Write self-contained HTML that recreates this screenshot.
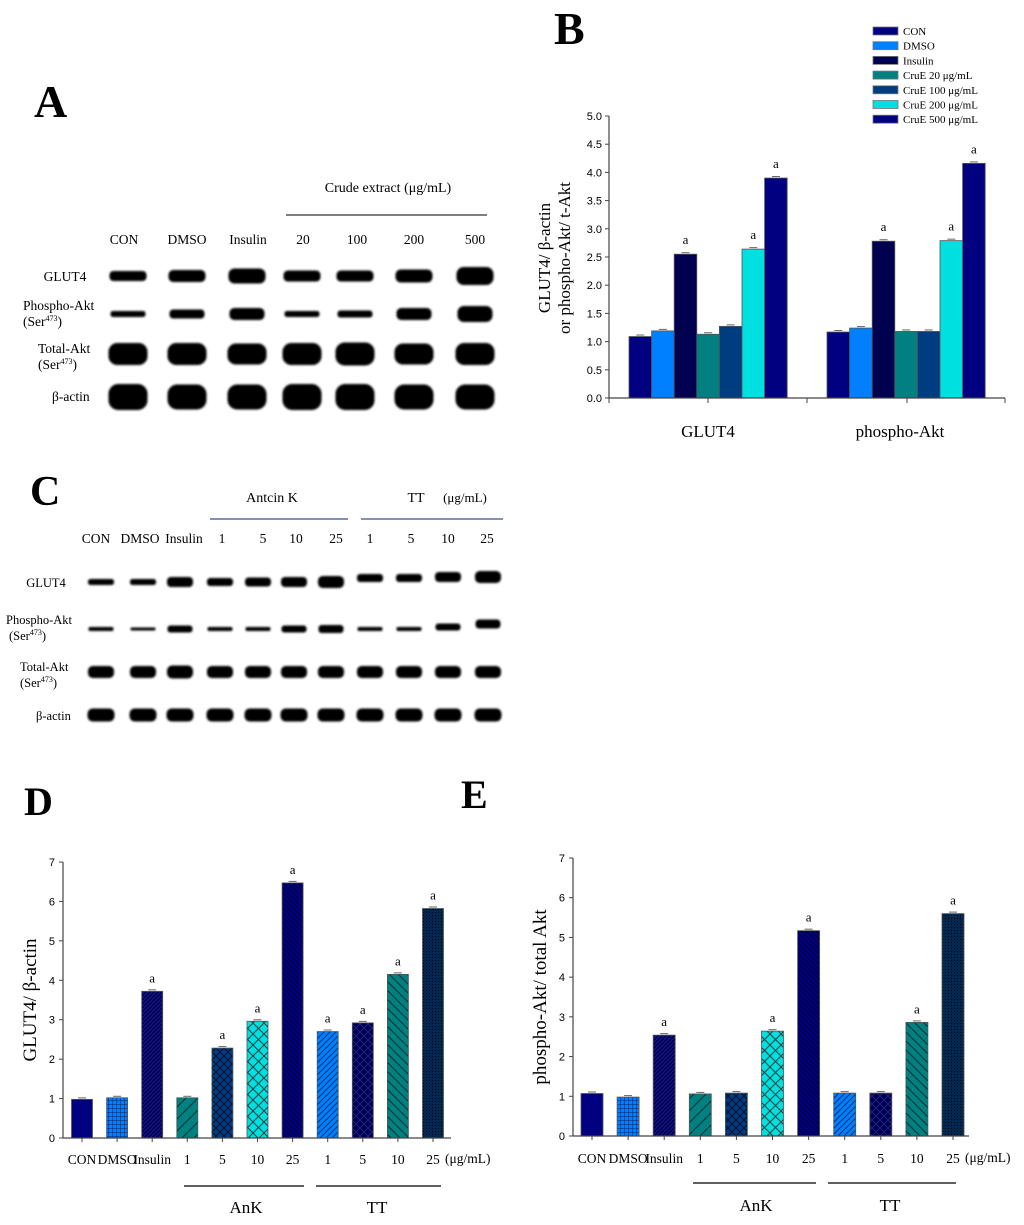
<!DOCTYPE html>
<html><head><meta charset="utf-8">
<style>
html,body{margin:0;padding:0;background:#fff;}
svg{display:block;}
text{font-family:"Liberation Serif",serif;fill:#000;}
.sans{font-family:"Liberation Sans",sans-serif;}
</style></head>
<body>
<svg id="fig" width="1024" height="1225" viewBox="0 0 1024 1225" xmlns="http://www.w3.org/2000/svg">
<defs>
<filter id="blur" x="-20%" y="-50%" width="140%" height="200%"><feGaussianBlur stdDeviation="1"/></filter>
<pattern id="p-grid" width="4" height="4" patternUnits="userSpaceOnUse"><rect width="4" height="4" fill="#0080ff"/><path d="M0 0H4M0 0V4" stroke="#002060" stroke-width="1"/></pattern>
<pattern id="p-ins" width="4" height="4" patternUnits="userSpaceOnUse"><rect width="4" height="4" fill="#000050"/><path d="M-1 1L1 -1M0 4L4 0M3 5L5 3" stroke="#1a1a8a" stroke-width="1"/></pattern>
<pattern id="p-fwdw" width="12" height="12" patternUnits="userSpaceOnUse"><rect width="12" height="12" fill="#008080"/><path d="M-3 3L3 -3M0 12L12 0M9 15L15 9" stroke="#003030" stroke-width="1"/></pattern>
<pattern id="p-xd" width="8" height="8" patternUnits="userSpaceOnUse"><rect width="8" height="8" fill="#003c80"/><path d="M0 0L8 8M8 0L0 8" stroke="#001030" stroke-width="1"/></pattern>
<pattern id="p-xc" width="11" height="11" patternUnits="userSpaceOnUse"><rect width="11" height="11" fill="#00e0e0"/><path d="M0 0L11 11M11 0L0 11" stroke="#104040" stroke-width="1"/></pattern>
<pattern id="p-back" width="5" height="5" patternUnits="userSpaceOnUse"><rect width="5" height="5" fill="#000080"/><path d="M0 0L5 5M-1 4L1 6M4 -1L6 1" stroke="#000030" stroke-width="1"/></pattern>
<pattern id="p-fwdb" width="6" height="6" patternUnits="userSpaceOnUse"><rect width="6" height="6" fill="#0080ff"/><path d="M-1 1L1 -1M0 6L6 0M5 7L7 5" stroke="#003070" stroke-width="1"/></pattern>
<pattern id="p-xn" width="8" height="8" patternUnits="userSpaceOnUse"><rect width="8" height="8" fill="#000050"/><path d="M0 0L8 8M8 0L0 8" stroke="#202080" stroke-width="1"/></pattern>
<pattern id="p-backw" width="9" height="9" patternUnits="userSpaceOnUse"><rect width="9" height="9" fill="#008080"/><path d="M0 0L9 9M-2 7L2 11M7 -2L11 2" stroke="#003030" stroke-width="1"/></pattern>
<pattern id="p-dot" width="3" height="3" patternUnits="userSpaceOnUse"><rect width="3" height="3" fill="#002850"/><rect width="1" height="1" fill="#000010"/></pattern>
</defs>

<!-- Panel letters -->
<text x="34" y="117" font-size="46" font-weight="bold">A</text>
<text x="554" y="44" font-size="46" font-weight="bold">B</text>
<text x="30" y="505" font-size="42" font-weight="bold">C</text>
<text x="24" y="815" font-size="40" font-weight="bold">D</text>
<text x="461" y="808" font-size="40" font-weight="bold">E</text>

<!-- Panel A blot text -->
<g font-size="13.5">
<text x="388" y="192" text-anchor="middle" font-size="14">Crude extract (μg/mL)</text>
<line x1="286" y1="215" x2="487" y2="215" stroke="#333" stroke-width="1.2"/>
<text x="124" y="244" text-anchor="middle">CON</text>
<text x="187" y="244" text-anchor="middle">DMSO</text>
<text x="248" y="244" text-anchor="middle">Insulin</text>
<text x="303" y="244" text-anchor="middle">20</text>
<text x="357" y="244" text-anchor="middle">100</text>
<text x="414" y="244" text-anchor="middle">200</text>
<text x="475" y="244" text-anchor="middle">500</text>
<text x="65" y="281" text-anchor="middle">GLUT4</text>
<text x="23" y="310">Phospho-Akt</text>
<text x="23" y="326">(Ser<tspan font-size="8" dy="-5">473</tspan><tspan dy="5">)</tspan></text>
<text x="38" y="353">Total-Akt</text>
<text x="38" y="369">(Ser<tspan font-size="8" dy="-5">473</tspan><tspan dy="5">)</tspan></text>
<text x="52" y="401">β-actin</text>
</g>
<g id="blotA" filter="url(#blur)"></g>

<!-- Panel C blot text -->
<g font-size="13.5">
<text x="272" y="502" text-anchor="middle" font-size="14">Antcin K</text>
<text x="416" y="502" text-anchor="middle" font-size="14">TT</text>
<text x="465" y="502" text-anchor="middle" font-size="13">(μg/mL)</text>
<line x1="210" y1="519" x2="348" y2="519" stroke="#3a4a8a" stroke-width="1.3"/>
<line x1="361" y1="519" x2="503" y2="519" stroke="#3a4a8a" stroke-width="1.3"/>
<text x="96" y="543" text-anchor="middle">CON</text>
<text x="140" y="543" text-anchor="middle">DMSO</text>
<text x="184" y="543" text-anchor="middle">Insulin</text>
<text x="222" y="543" text-anchor="middle">1</text>
<text x="263" y="543" text-anchor="middle">5</text>
<text x="296" y="543" text-anchor="middle">10</text>
<text x="336" y="543" text-anchor="middle">25</text>
<text x="370" y="543" text-anchor="middle">1</text>
<text x="411" y="543" text-anchor="middle">5</text>
<text x="448" y="543" text-anchor="middle">10</text>
<text x="487" y="543" text-anchor="middle">25</text>
<text x="46" y="587" text-anchor="middle" font-size="12.5">GLUT4</text>
<text x="6" y="624" font-size="12.5">Phospho-Akt</text>
<text x="9" y="640" font-size="12.5">(Ser<tspan font-size="8" dy="-5">473</tspan><tspan dy="5">)</tspan></text>
<text x="20" y="671" font-size="12.5">Total-Akt</text>
<text x="20" y="687" font-size="12.5">(Ser<tspan font-size="8" dy="-5">473</tspan><tspan dy="5">)</tspan></text>
<text x="36" y="720" font-size="12.5">β-actin</text>
</g>
<g id="blotC" filter="url(#blur)"></g>

<g id="chartB"></g>
<g id="chartD"></g>
<g id="chartE"></g>
</svg>

<script>
// ---------- Panel B data ----------
const bGroups = ["GLUT4", "phospho-Akt"];
const bSeries = ["CON", "DMSO", "Insulin", "CruE  20 μg/mL", "CruE  100 μg/mL", "CruE  200 μg/mL", "CruE  500 μg/mL"];
const bGlut4 = [1.09, 1.19, 2.55, 1.13, 1.27, 2.64, 3.90];
const bPakt = [1.17, 1.24, 2.78, 1.18, 1.18, 2.79, 4.16];
const bGlut4Sig = ["", "", "a", "", "", "a", "a"];
const bPaktSig = ["", "", "a", "", "", "a", "a"];
const bTicks = ["0.0","0.5","1.0","1.5","2.0","2.5","3.0","3.5","4.0","4.5","5.0"];

// ---------- Panel D data ----------
const dCats = ["CON","DMSO","Insulin","1","5","10","25","1","5","10","25"];
const dValues = [0.98, 1.02, 3.72, 1.02, 2.28, 2.96, 6.47, 2.70, 2.92, 4.15, 5.82];
const dSig = ["", "", "a", "", "a", "a", "a", "a", "a", "a", "a"];
// ---------- Panel E data ----------
const eCats = ["CON","DMSO","Insulin","1","5","10","25","1","5","10","25"];
const eValues = [1.07, 0.98, 2.54, 1.06, 1.08, 2.64, 5.17, 1.08, 1.08, 2.86, 5.60];
const eSig = ["", "", "a", "", "", "a", "a", "", "", "a", "a"];
const deTicks = ["0","1","2","3","4","5","6","7"];

// ---------- Blot intensities (band heights) ----------
const aGlut4 = [10, 12, 15, 11, 11, 13, 18];
const aPakt = [6, 9, 12, 6, 7, 12, 16];
const aTotal = [22, 22, 21, 22, 23, 21, 22];
const aActin = [26, 25, 25, 26, 26, 25, 25];
const cGlut4 = [6, 6, 10, 8, 9, 10, 12, 8, 8, 10, 12];
const cPakt = [4, 3, 7, 4, 4, 7, 8, 4, 4, 7, 9];
const cTotal = [12, 12, 13, 12, 12, 12, 12, 12, 12, 12, 12];
const cActin = [13, 13, 13, 13, 13, 13, 13, 13, 13, 13, 13];

const NS = "http://www.w3.org/2000/svg";
function mk(tag, attrs, parent){ const e=document.createElementNS(NS,tag); for(const k in attrs) e.setAttribute(k,attrs[k]); parent.appendChild(e); return e; }

// ---------- Blots ----------
function blotRow(g, xs, heights, cy, w, name, dy){
  heights.forEach((h,i)=>{
    const yc = cy + (dy ? dy[i] : 0);
    const r = mk("rect",{x:xs[i]-w/2, y:yc-h/2, width:w, height:h, rx:Math.min(h/2.5,w/4), fill:"#000"}, g);
    
    
  });
}
const blotA = document.getElementById("blotA");
const aX = [128, 187, 247, 302, 355, 414, 475];
blotRow(blotA, aX, aGlut4, 276, 37, "glut4");
blotRow(blotA, aX, aPakt, 314, 35, "phospho-akt");
blotRow(blotA, aX, aTotal, 354, 39, "total-akt");
blotRow(blotA, aX, aActin, 397, 39, "beta-actin");
const blotC = document.getElementById("blotC");
const cX = [101, 143, 180, 220, 258, 294, 331, 370, 409, 448, 488];
blotRow(blotC, cX, cGlut4, 582, 26, "glut4", [0,0,0,0,0,0,0,-4,-4,-5,-5]);
blotRow(blotC, cX, cPakt, 629, 25, "phospho-akt", [0,0,0,0,0,0,0,0,0,-2,-5]);
blotRow(blotC, cX, cTotal, 672, 26, "total-akt");
blotRow(blotC, cX, cActin, 715, 27, "beta-actin");

// ---------- Chart B ----------
(function(){
  const g = document.getElementById("chartB");
  const x0=609, x1=1005, yBase=398, yTop=116, vMax=5;
  const y = v => yBase - (v/vMax)*(yBase-yTop);
  const colors = ["#000080","#0080ff","#000050","#008080","#003c80","#00e0e0","#000080"];
  const gStart = [629, 827], bw = 22.6;
  bTicks.forEach((t,i)=>{
    const v = parseFloat(t), yy=y(v);
    mk("line",{x1:x0-4,y1:yy,x2:x0,y2:yy,stroke:"#444"},g);
    const tx = mk("text",{x:x0-7,y:yy+4,"font-size":"11","text-anchor":"end",class:"sans",fill:"#222"},g);
    tx.textContent=t;
    
    
  });
  [bGlut4, bPakt].forEach((vals,gi)=>{
    const sig = gi===0 ? bGlut4Sig : bPaktSig;
    vals.forEach((v,i)=>{
      const bx = gStart[gi] + i*bw;
      const r = mk("rect",{x:bx,y:y(v),width:bw,height:yBase-y(v),fill:colors[i],stroke:"#555","stroke-width":"0.8"},g);
      
      
      mk("line",{x1:bx+bw/2-4,y1:y(v)-1.5,x2:bx+bw/2+4,y2:y(v)-1.5,stroke:"#666","stroke-width":"1"},g);
      if(sig[i]){ const a=mk("text",{x:bx+bw/2,y:y(v)-10,"font-size":"13","text-anchor":"middle"},g); a.textContent=sig[i];
        
         }
    });
  });
  mk("line",{x1:x0,y1:yTop,x2:x0,y2:yBase,stroke:"#444","stroke-width":"1.2"},g);
  mk("line",{x1:x0,y1:yBase,x2:x1,y2:yBase,stroke:"#444","stroke-width":"1.2"},g);
  [609,708,807,907,1005].forEach(tx=>mk("line",{x1:tx,y1:yBase,x2:tx,y2:yBase+5,stroke:"#444"},g));
  [708,900].forEach((cx,i)=>{ const t=mk("text",{x:cx,y:437,"font-size":"17","text-anchor":"middle"},g); t.textContent=bGroups[i];
    
     });
  const yl = mk("text",{transform:"translate(550,258) rotate(-90)","font-size":"17","text-anchor":"middle"},g);
  yl.textContent="GLUT4/ β-actin";
  
  
  const yl2 = mk("text",{transform:"translate(570,258) rotate(-90)","font-size":"17","text-anchor":"middle"},g);
  yl2.textContent="or phospho-Akt/ t-Akt";
  
  
  bSeries.forEach((s,i)=>{
    const ly = 31 + i*14.7;
    const r=mk("rect",{x:873,y:ly-4,width:25,height:8,fill:colors[i],stroke:"#777","stroke-width":"0.8"},g);
    
    
    const t=mk("text",{x:903,y:ly+4,"font-size":"11"},g); t.textContent=s;
    
    
  });
})();

// ---------- Charts D and E ----------
const fills = ["#000080","url(#p-grid)","url(#p-ins)","url(#p-fwdw)","url(#p-xd)","url(#p-xc)","url(#p-back)","url(#p-fwdb)","url(#p-xn)","url(#p-backw)","url(#p-dot)"];
function drawDE(id, cats, vals, sig, cfg){
  const g = document.getElementById(id);
  const {x0,x1,yBase,yTop,c0,step,bw,title,tx,ty,lblY,ank,tt,grpY,grpTextY} = cfg;
  const y = v => yBase - (v/7)*(yBase-yTop);
  deTicks.forEach(t=>{
    const yy=y(parseFloat(t));
    mk("line",{x1:x0-4,y1:yy,x2:x0,y2:yy,stroke:"#444"},g);
    const e=mk("text",{x:x0-8,y:yy+4,"font-size":"11","text-anchor":"end",class:"sans",fill:"#222"},g); e.textContent=t;
    
    
  });
  vals.forEach((v,i)=>{
    const cx = c0 + i*step;
    const r=mk("rect",{x:cx-bw/2,y:y(v),width:bw,height:yBase-y(v),fill:fills[i],stroke:"#555","stroke-width":"0.8"},g);
    
    
    mk("line",{x1:cx-4,y1:y(v)-1.5,x2:cx+4,y2:y(v)-1.5,stroke:"#666"},g);
    mk("line",{x1:cx,y1:yBase,x2:cx,y2:yBase+4,stroke:"#444"},g);
    if(sig[i]){ const a=mk("text",{x:cx,y:y(v)-9,"font-size":"13","text-anchor":"middle"},g); a.textContent=sig[i];
      
       }
    const l=mk("text",{x:cx,y:lblY,"font-size":"13.5","text-anchor":"middle"},g); l.textContent=cats[i];
    
    
  });
  mk("line",{x1:x0,y1:yTop,x2:x0,y2:yBase,stroke:"#444","stroke-width":"1.2"},g);
  mk("line",{x1:x0,y1:yBase,x2:x1,y2:yBase,stroke:"#444","stroke-width":"1.2"},g);
  const u=mk("text",{x:c0+10*step+12,y:lblY-1,"font-size":"13.5"},g); u.textContent="(μg/mL)";
  
  
  mk("line",{x1:ank[0],y1:grpY,x2:ank[1],y2:grpY,stroke:"#000","stroke-width":"1.3"},g);
  mk("line",{x1:tt[0],y1:grpY,x2:tt[1],y2:grpY,stroke:"#000","stroke-width":"1.3"},g);
  const a1=mk("text",{x:ank[2],y:grpTextY,"font-size":"17","text-anchor":"middle"},g); a1.textContent="AnK";
  
  
  const a2=mk("text",{x:tt[2],y:grpTextY,"font-size":"17","text-anchor":"middle"},g); a2.textContent="TT";
  
  
  const yl=mk("text",{transform:`translate(${tx},${ty}) rotate(-90)`,"font-size":"19","text-anchor":"middle"},g); yl.textContent=title;
  
  
}
drawDE("chartD", dCats, dValues, dSig, {x0:63,x1:451,yBase:1138,yTop:862,c0:82,step:35.1,bw:21,
  title:"GLUT4/ β-actin",tx:36,ty:1000,lblY:1164,ank:[184,304,246],tt:[316,441,377],grpY:1186,grpTextY:1213});
drawDE("chartE", eCats, eValues, eSig, {x0:573,x1:969,yBase:1136,yTop:858,c0:592,step:36.1,bw:22,
  title:"phospho-Akt/ total Akt",tx:546,ty:997,lblY:1163,ank:[693,816,756],tt:[828,956,890],grpY:1183,grpTextY:1211});
</script>
</body></html>
